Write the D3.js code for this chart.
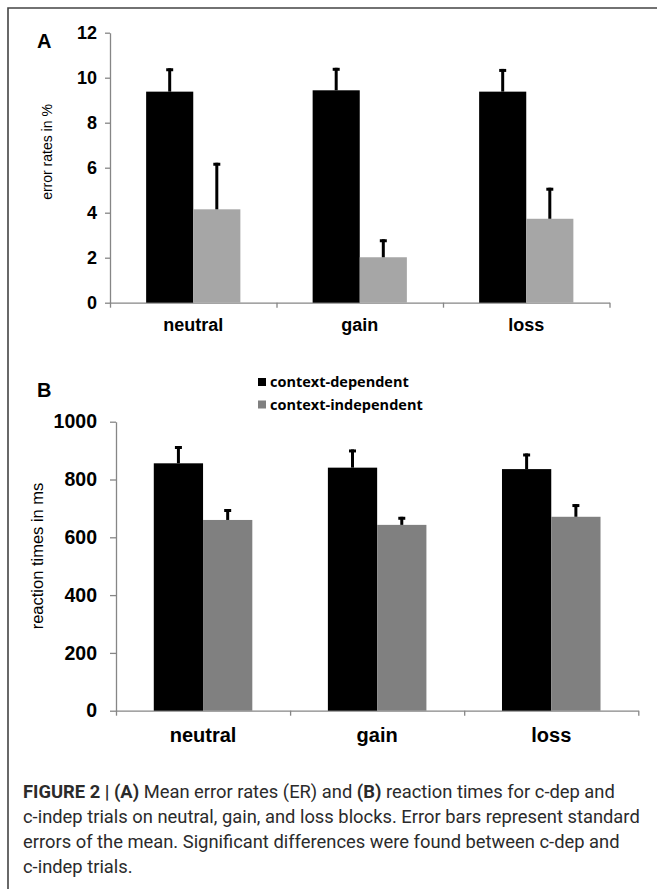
<!DOCTYPE html>
<html>
<head>
<meta charset="utf-8">
<script src="https://cdn.jsdelivr.net/npm/d3@7"></script>
<style>
  body { margin: 0; background: #fff; }
  svg { display: block; }
  .axis path, .axis line { stroke: #868686; stroke-width: 1.3; }
  .axis text { fill: #000; font-family: 'Liberation Sans', Arial, sans-serif; font-weight: bold; }
</style>
</head>
<body>
<svg id="fig" width="657" height="889"></svg>
<script>
// values
const categories = ['neutral', 'gain', 'loss'];
const groups = ['dep', 'indep'];
const legendLabels = ['context-dependent', 'context-independent'];

// panel A: error rates in %
const errDep = [9.38, 9.44, 9.38];
const errDepSE = [1.04, 1.0, 1.01];
const errIndep = [4.15, 2.02, 3.73];
const errIndepSE = [2.07, 0.8, 1.38];
const ticksA = [0, 2, 4, 6, 8, 10, 12];

// panel B: reaction times in ms
const rtDep = [856, 841, 836];
const rtDepSE = [60, 63, 54];
const rtIndep = [660, 643, 671];
const rtIndepSE = [38, 28, 44];
const ticksB = [0, 200, 400, 600, 800, 1000];

const captionLines = [
  [['FIGURE 2 | (A)', true], [' Mean error rates (ER) and ', false], ['(B)', true], [' reaction times for c-dep and', false]],
  [['c-indep trials on neutral, gain, and loss blocks. Error bars represent standard', false]],
  [['errors of the mean. Significant differences were found between c-dep and', false]],
  [['c-indep trials.', false]]
];

const svg = d3.select('#fig');

// frame (top and left only)
svg.append('path')
  .attr('d', 'M8,889V8H657')
  .attr('fill', 'none')
  .attr('stroke', '#444')
  .attr('stroke-width', 1.6);

function panel(opts) {
  const g = svg.append('g');
  const x = d3.scaleBand().domain(categories).range(opts.xr);
  const xs = d3.scaleBand().domain(groups).range([0, x.bandwidth()]).paddingOuter(0.767);
  const y = d3.scaleLinear().domain([0, d3.max(opts.ticks)]).range(opts.yr);

  const rows = categories.map((c, i) => ({
    cat: c,
    bars: [
      {key: 'dep', v: opts.dep[i], se: opts.depSE[i]},
      {key: 'indep', v: opts.indep[i], se: opts.indepSE[i]}
    ]
  }));

  // y axis
  g.append('g')
    .attr('class', 'axis')
    .attr('transform', `translate(${opts.xr[0]},0)`)
    .call(d3.axisLeft(y).tickValues(opts.ticks).tickFormat(d3.format('d'))
      .tickSize(opts.tickLen).tickSizeOuter(0).tickPadding(opts.tickPad))
    .call(a => a.selectAll('text').style('font-size', opts.tickFont + 'px'));

  // x axis, ticks at category boundaries
  const xb = d3.scaleLinear().domain([0, categories.length]).range(opts.xr);
  g.append('g')
    .attr('class', 'axis')
    .attr('transform', `translate(0,${opts.yr[0]})`)
    .call(d3.axisBottom(xb).ticks(categories.length).tickSize(5).tickSizeOuter(0).tickFormat(''));

  const cg = g.selectAll('.cat')
    .data(rows)
    .join('g')
    .attr('class', 'cat')
    .attr('transform', d => `translate(${x(d.cat)},0)`);

  cg.selectAll('rect')
    .data(d => d.bars)
    .join('rect')
    .attr('x', d => xs(d.key))
    .attr('width', xs.bandwidth())
    .attr('y', d => y(d.v))
    .attr('height', d => y(0) - y(d.v))
    .attr('fill', d => d.key === 'dep' ? '#000' : opts.grey);

  // one-sided error bars
  cg.selectAll('line.err')
    .data(d => d.bars)
    .join('line')
    .attr('class', 'err')
    .attr('x1', d => xs(d.key) + xs.bandwidth() / 2)
    .attr('x2', d => xs(d.key) + xs.bandwidth() / 2)
    .attr('y1', d => y(d.v))
    .attr('y2', d => y(d.v + d.se))
    .attr('stroke', '#000')
    .attr('stroke-width', 3);

  cg.selectAll('line.cap')
    .data(d => d.bars)
    .join('line')
    .attr('class', 'cap')
    .attr('x1', d => xs(d.key) + xs.bandwidth() / 2 - 3.5)
    .attr('x2', d => xs(d.key) + xs.bandwidth() / 2 + 3.5)
    .attr('y1', d => y(d.v + d.se) + 1.5)
    .attr('y2', d => y(d.v + d.se) + 1.5)
    .attr('stroke', '#000')
    .attr('stroke-width', 3);

  // category labels
  g.selectAll('.catlabel')
    .data(categories)
    .join('text')
    .attr('class', 'catlabel')
    .attr('x', d => x(d) + x.bandwidth() / 2)
    .attr('y', opts.catY)
    .attr('text-anchor', 'middle')
    .style('font-family', "'Liberation Sans', Arial, sans-serif")
    .style('font-weight', 'bold')
    .style('font-size', opts.catFont + 'px')
    .text(d => d);

  // y label
  g.append('text')
    .attr('transform', `translate(${opts.ylab[0]},${opts.ylab[1]}) rotate(-90)`)
    .attr('text-anchor', 'middle')
    .style('font-family', "'Liberation Sans', Arial, sans-serif")
    .style('font-size', opts.ylabFont + 'px')
    .text(opts.ylabel);

  // panel letter
  g.append('text')
    .attr('x', 37)
    .attr('y', opts.letterY)
    .style('font-family', "'Liberation Sans', Arial, sans-serif")
    .style('font-weight', 'bold')
    .style('font-size', '20px')
    .text(opts.letter);
}

panel({
  letter: 'A', letterY: 48,
  xr: [110, 609.5], yr: [302.7, 32.7],
  dep: errDep, depSE: errDepSE, indep: errIndep, indepSE: errIndepSE,
  ticks: ticksA, grey: '#a6a6a6',
  tickLen: 5, tickPad: 8, tickFont: 18,
  catY: 331, catFont: 18,
  ylabel: 'error rates in %', ylab: [52, 152], ylabFont: 14
});

panel({
  letter: 'B', letterY: 397,
  xr: [116, 638.3], yr: [710.7, 421.7],
  dep: rtDep, depSE: rtDepSE, indep: rtIndep, indepSE: rtIndepSE,
  ticks: ticksB, grey: '#808080',
  tickLen: 6, tickPad: 13, tickFont: 19.5,
  catY: 742, catFont: 20,
  ylabel: 'reaction times in ms', ylab: [43, 556], ylabFont: 16.5
});

// legend for panel B
const legend = svg.selectAll('.legend')
  .data(legendLabels)
  .join('g')
  .attr('class', 'legend')
  .attr('transform', (d, i) => `translate(258,${378 + i * 22.5})`);

legend.append('rect')
  .attr('width', 8)
  .attr('height', 8)
  .attr('fill', (d, i) => i === 0 ? '#000' : '#808080');

legend.append('text')
  .attr('x', 12)
  .attr('y', 9)
  .style('font-family', "'Open Sans', sans-serif")
  .style('font-weight', 'bold')
  .style('font-size', '14.5px')
  .text(d => d);

// caption
const cap = svg.append('g');
const capText = cap.selectAll('text')
  .data(captionLines)
  .join('text')
  .attr('x', 23)
  .attr('y', (d, i) => 798 + i * 25)
  .style('font-family', 'Roboto, sans-serif')
  .style('font-size', '16px')
  .attr('fill', '#2b2b2b');

capText.selectAll('tspan')
  .data(d => d)
  .join('tspan')
  .style('font-weight', d => d[1] ? 'bold' : 'normal')
  .text(d => d[0]);

// fit the caption to the reference line width
const w2 = capText.nodes()[1].getComputedTextLength();
const fs = 16 * 617 / w2;
capText.style('font-size', fs + 'px');
</script>
</body>
</html>
